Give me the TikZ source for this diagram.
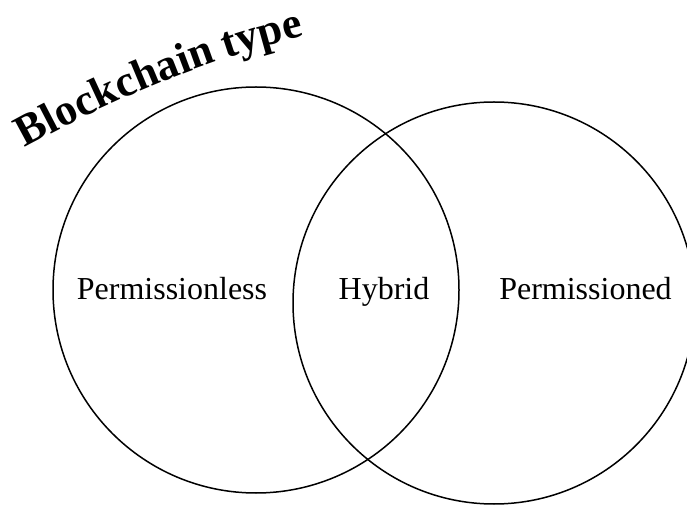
\documentclass[tikz,border=0pt]{standalone}
\usepackage{fontspec}
\setmainfont{Liberation Serif}
\usetikzlibrary{decorations.text}

\tikzset{
  venn/.style={draw=black, line width=1.5pt, circle, inner sep=0pt},
  setlabel/.style={anchor=base, inner sep=0pt, font=\fontsize{32}{38}\selectfont},
}

\begin{document}
\begin{tikzpicture}[x=1pt,y=1pt]
  \useasboundingbox (0,0) rectangle (687,506);
  \begin{scope}
    \clip (0,0) rectangle (687,506);
    % the two overlapping sets
    \node[venn, minimum size=406pt] (less) at (256,216) {};
    \node[venn, minimum size=402pt] (ned) at (494,203) {};
  \end{scope}

  % set labels
  \node[setlabel] (lessLabel) at (172,206) {Permissionless};
  \node[setlabel] (hybridLabel) at (384,206) {Hybrid};
  \node[setlabel] (nedLabel) at (585.5,206) {Permissioned};

  % curved title
  \path[decorate, decoration={text along path,
        text={|\fontsize{44}{52}\selectfont\bfseries|Blockchain type}}]
    (25,358) .. controls (108,404) and (205,446) .. (304,470);
\end{tikzpicture}
\end{document}
